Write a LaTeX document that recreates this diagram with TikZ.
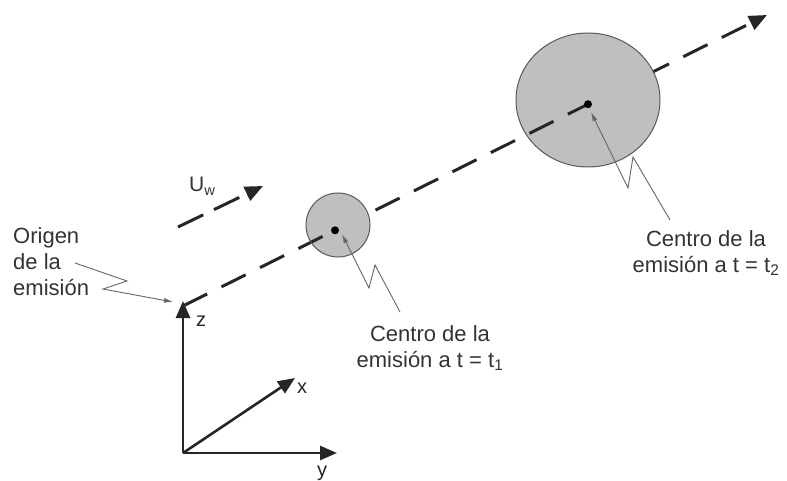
\documentclass[tikz,border=0pt]{standalone}
\usepackage{fontspec}
\setmainfont{Liberation Sans}
\usetikzlibrary{arrows.meta,shapes.geometric}
\begin{document}
\begin{tikzpicture}[x=1pt,y=-1pt,
  traj/.style={line width=3pt,draw=black!85,dash pattern=on 27pt off 16pt},
  axis/.style={line width=2.6pt,draw=black!85,-{Triangle[length=17pt,width=14pt]}},
  puff/.style={ellipse,fill=black!25,draw=black!65,line width=1pt,inner sep=0pt},
  pointer/.style={draw=black!60,line width=0.9pt,-{Latex[length=9pt,width=5pt]}},
  lbl/.style={font=\fontsize{22}{26}\selectfont,text=black!80,inner sep=0pt},
  axlbl/.style={font=\fontsize{20}{24}\selectfont,text=black!85,inner sep=0pt},
  dot/.style={circle,fill=black,inner sep=0pt,minimum size=8pt}]
\useasboundingbox (0,0) rectangle (787,481);
% coordinates
\coordinate (o) at (183,306);
\coordinate (e) at (767,15);
\coordinate (d1) at (335,230.3);
\coordinate (d2) at (588,104.2);
\coordinate (A) at (183,453);
\coordinate (Z) at (183,301);
\coordinate (X) at (295,378);
\coordinate (Y) at (337,453);
% trajectory
\draw[traj,-{Triangle[length=18pt,width=15pt]}] (o) -- (e);
% puffs
\node[puff,minimum width=64pt,minimum height=64pt,
  path picture={\draw[traj] (o) -- (d1);}] (p1) at (338,225) {};
\node[puff,minimum width=144pt,minimum height=134pt,
  path picture={\draw[traj] (o) -- (d2);}] (p2) at (588,100) {};
\node[dot] (c1) at (d1) {};
\node[dot] (c2) at (d2) {};
% axes
\draw[axis] (A) -- (Z);
\draw[axis] (A) -- (X);
\draw[axis] (A) -- (Y);
\node[axlbl,anchor=base west] (lz) at (196,326) {z};
\node[axlbl,anchor=base west] (lx) at (297,393) {x};
\node[axlbl,anchor=base west] (ly) at (317,476) {y};
% wind
\coordinate (w0) at (178,227);
\coordinate (w1) at (263,186);
\draw[traj,dash pattern=on 28pt off 12pt,-{Triangle[length=18pt,width=15pt]}] (w0) -- (w1);
\node[lbl,anchor=base west,font=\fontsize{21}{24}\selectfont] (uw) at (189,192) {U\textsubscript{w}};
% labels
\node[lbl,anchor=north west,align=left] (orig) at (13,227) {Origen\\de la\\emisión};
\node[lbl,anchor=north,align=center] (t1) at (430,325) {Centro de la\\emisión a t = t\textsubscript{1}};
\node[lbl,anchor=north,align=center] (t2) at (706,230) {Centro de la\\emisión a t = t\textsubscript{2}};
% pointers
\draw[pointer] (75,263) -- (127,281) -- (103,289) -- ([shift={(-10,-4)}]o);
\draw[pointer] (400,312) -- (375,265) -- (369,288) -- ([shift={(7,4)}]c1.center);
\draw[pointer] (670,220) -- (633,157) -- (628,188) -- ([shift={(3,8)}]c2.center);
\end{tikzpicture}
\end{document}
